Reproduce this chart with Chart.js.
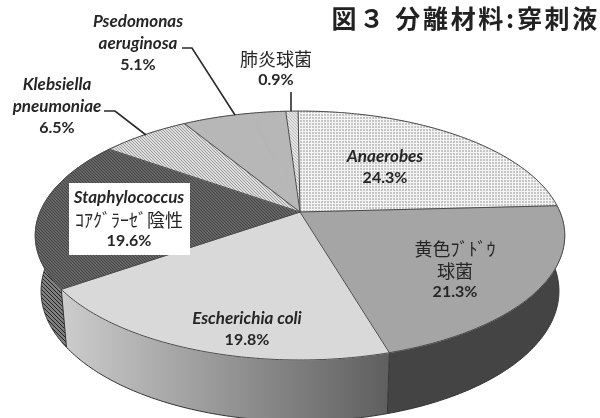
<!DOCTYPE html>
<html lang="ja">
<head>
<meta charset="utf-8">
<title>図3 分離材料:穿刺液</title>
<script src="https://cdn.jsdelivr.net/npm/chart.js@4"></script>
<style>
  html, body { margin: 0; padding: 0; background: #fff; overflow: hidden; }
  #grafico { display: block; filter: blur(0.45px); }
</style>
</head>
<body>
<canvas id="grafico" width="600" height="418"></canvas>
<script>
//Datos

const categorias = ["Anaerobes", "黄色ﾌﾞﾄﾞｳ球菌", "Escherichia coli", "Staphylococcus ｺｱｸﾞﾗｰｾﾞ陰性", "Klebsiella pneumoniae", "Psedomonas aeruginosa", "", "肺炎球菌"];
const valores = [24.3, 21.3, 19.8, 19.6, 6.5, 5.1, 2.5, 0.9];
const titulo = "図３ 分離材料:穿刺液";

//Estilos y geometria del pastel 3D

const FONT_LAT = 'Lato, "Noto Sans", sans-serif';
const FONT_JP = '"Noto Sans CJK JP", sans-serif';
const TEXTO = "#262626";
const BORDE = "#4a4a4a";

const persp = { cx: 300, cy: 212, rx: 260, ry: 120, k: 0.189 };
const fondo = { sx: 0.978, sy: 1.046, dy: 44.7 };

// etiquetas: lineas + posicion de cada una
const etiquetas = [
  { i: 0, lineas: [["Anaerobes", "lat"]], x: 385, y: 157 },
  { i: 1, lineas: [["黄色ﾌﾞﾄﾞｳ", "jp"], ["球菌", "jp"]], x: 455, y: 249 },
  { i: 2, lineas: [["Escherichia coli", "lat"]], x: 247, y: 319 },
  { i: 3, lineas: [["Staphylococcus", "lat"], ["ｺｱｸﾞﾗｰｾﾞ陰性", "jp"]], x: 129, y: 198, caja: [69, 183, 121, 72] },
  { i: 4, lineas: [["Klebsiella", "lat"], ["pneumoniae", "lat"]], x: 57, y: 85, guia: [[104, 111], [115, 111], [146, 135]] },
  { i: 5, lineas: [["Psedomonas", "lat"], ["aeruginosa", "lat"]], x: 138, y: 22, guia: [[182, 48], [192, 48], [235, 115]] },
  { i: 7, lineas: [["肺炎球菌", "jp"]], x: 276, y: 59, guia: [[291, 92], [291, 111]] }
];

//Funciones auxiliares

function trama(tam, dibujar) {
  const c = document.createElement("canvas");
  c.width = tam;
  c.height = tam;
  dibujar(c.getContext("2d"));
  return document.createElement("canvas").getContext("2d").createPattern(c, "repeat");
}

function rayas(bg, fg, tam) {
  return trama(tam, g => {
    g.fillStyle = bg;
    g.fillRect(0, 0, tam, tam);
    g.strokeStyle = fg;
    g.lineWidth = 1;
    g.beginPath();
    g.moveTo(-1, -1);
    g.lineTo(tam + 1, tam + 1);
    g.moveTo(-1, tam - 1);
    g.lineTo(1, tam + 1);
    g.moveTo(tam - 1, -1);
    g.lineTo(tam + 1, 1);
    g.stroke();
  });
}

function puntos(bg, fg, tam) {
  return trama(tam, g => {
    g.fillStyle = bg;
    g.fillRect(0, 0, tam, tam);
    g.fillStyle = fg;
    g.fillRect(0, 0, 2, 2);
  });
}

// circulo unidad -> pantalla
function proyectar(ang, capa) {
  const u = Math.cos(ang);
  const v = Math.sin(ang);
  const w = 1 - persp.k * v;
  let x = persp.cx + persp.rx * u / w;
  let y = persp.cy + persp.ry * v / w;
  if (capa === 1) {
    x = persp.cx + (x - persp.cx) * fondo.sx;
    y = y * fondo.sy + fondo.dy;
  }
  return [x, y];
}

function angulos(a0, a1) {
  const n = Math.max(2, Math.ceil((a1 - a0) / 0.015));
  const lista = [];
  for (let j = 0; j <= n; j++) lista.push(a0 + (a1 - a0) * j / n);
  return lista;
}

const pastel3d = {
  id: "pastel3d",
  beforeDraw(chart) {
    // el titulo original va espaciado
    chart.ctx.letterSpacing = "2.7px";
  },
  beforeDatasetDraw(chart, args) {
    const ctx = chart.ctx;
    const arcos = args.meta.data;
    const ds = chart.data.datasets[0];
    const paredes = ds.wallColor;

    ctx.letterSpacing = "0px";
    ctx.save();
    // paredes
    arcos.forEach((arco, i) => {
      const angs = angulos(arco.startAngle, arco.endAngle);
      ctx.beginPath();
      angs.forEach((a, j) => {
        const p = proyectar(a, 0);
        if (j) ctx.lineTo(p[0], p[1]); else ctx.moveTo(p[0], p[1]);
      });
      angs.slice().reverse().forEach(a => {
        const p = proyectar(a, 1);
        ctx.lineTo(p[0], p[1]);
      });
      ctx.closePath();
      if (i === 2) {
        const grad = ctx.createLinearGradient(60, 0, 385, 0);
        grad.addColorStop(0, "#cdcdcd");
        grad.addColorStop(1, "#606060");
        ctx.fillStyle = grad;
      } else {
        ctx.fillStyle = paredes[i];
      }
      ctx.fill();
    });
    // contorno inferior y aristas
    ctx.strokeStyle = "#333";
    ctx.lineWidth = 1;
    ctx.beginPath();
    angulos(-0.3, Math.PI + 0.3).forEach((a, j) => {
      const p = proyectar(a, 1);
      if (j) ctx.lineTo(p[0], p[1]); else ctx.moveTo(p[0], p[1]);
    });
    ctx.stroke();
    [arcos[1].endAngle, arcos[2].endAngle].forEach(a => {
      const p0 = proyectar(a, 0);
      const p1 = proyectar(a, 1);
      ctx.beginPath();
      ctx.moveTo(p0[0], p0[1]);
      ctx.lineTo(p1[0], p1[1]);
      ctx.stroke();
    });

    // cara superior
    const vertice = [persp.cx, persp.cy];
    arcos.forEach((arco, i) => {
      ctx.beginPath();
      ctx.moveTo(vertice[0], vertice[1]);
      angulos(arco.startAngle, arco.endAngle).forEach(a => {
        const p = proyectar(a, 0);
        ctx.lineTo(p[0], p[1]);
      });
      ctx.closePath();
      ctx.fillStyle = ds.backgroundColor[i];
      ctx.fill();
      // tapa la junta entre sectores iguales
      ctx.strokeStyle = ds.backgroundColor[i];
      ctx.lineWidth = 0.8;
      ctx.stroke();
    });
    // bordes: arco exterior de todos, radio inicial salvo el tramo sin etiqueta
    ctx.strokeStyle = BORDE;
    ctx.lineWidth = 1;
    ctx.beginPath();
    angulos(0, Math.PI * 2).forEach((a, j) => {
      const p = proyectar(a, 0);
      if (j) ctx.lineTo(p[0], p[1]); else ctx.moveTo(p[0], p[1]);
    });
    ctx.closePath();
    ctx.stroke();
    arcos.forEach((arco, i) => {
      if (!ds.borderWidth[i]) return;
      const p = proyectar(arco.startAngle, 0);
      ctx.beginPath();
      ctx.moveTo(vertice[0], vertice[1]);
      ctx.lineTo(p[0], p[1]);
      ctx.stroke();
    });
    ctx.restore();

    dibujarEtiquetas(ctx);
    return false;
  }
};

function dibujarEtiquetas(ctx) {
  ctx.save();
  ctx.textAlign = "center";
  ctx.textBaseline = "middle";
  etiquetas.forEach(e => {
    if (e.caja) {
      ctx.fillStyle = "#fff";
      ctx.fillRect(e.caja[0], e.caja[1], e.caja[2], e.caja[3]);
    }
    if (e.guia) {
      ctx.strokeStyle = "#2a2a2a";
      ctx.lineWidth = 1.6;
      ctx.beginPath();
      e.guia.forEach((p, j) => {
        if (j) ctx.lineTo(p[0], p[1]); else ctx.moveTo(p[0], p[1]);
      });
      ctx.stroke();
    }
    ctx.fillStyle = TEXTO;
    let y = e.y;
    e.lineas.forEach(l => {
      ctx.font = l[1] === "lat" ? `italic bold 17px ${FONT_LAT}` : `18px ${FONT_JP}`;
      ctx.fillText(l[0], e.x, y);
      y += 22;
    });
    ctx.font = `bold 16px ${FONT_LAT}`;
    ctx.fillText(valores[e.i].toFixed(1) + "%", e.x, y - 1);
  });
  ctx.restore();
}

//Grafico

const relleno = [
  puntos("#f4f4f4", "#c6c6c6", 3),
  "#a5a5a5",
  "#d9d9d9",
  rayas("#666666", "#444444", 3),
  rayas("#dedede", "#9a9a9a", 3),
  "#b7b7b7",
  "#b7b7b7",
  rayas("#e4e4e4", "#bdbdbd", 3)
];

const pared = [
  "#444444",
  "#444444",
  "#999999",
  rayas("#808080", "#222222", 4),
  "#555555",
  "#555555",
  "#555555",
  "#555555"
];

new Chart(document.getElementById("grafico"), {
  type: "pie",
  data: {
    labels: categorias,
    datasets: [{
      data: valores,
      backgroundColor: relleno,
      wallColor: pared,
      borderWidth: [1, 1, 1, 1, 1, 1, 0, 1]
    }]
  },
  options: {
    responsive: false,
    animation: false,
    rotation: -0.5,
    plugins: {
      legend: { display: false },
      tooltip: { enabled: false },
      title: {
        display: true,
        text: titulo,
        align: "end",
        color: "#222",
        padding: { top: 3, bottom: 0 },
        font: { family: FONT_JP, size: 25, weight: "bold" }
      }
    }
  },
  plugins: [pastel3d]
});
</script>
</body>
</html>
